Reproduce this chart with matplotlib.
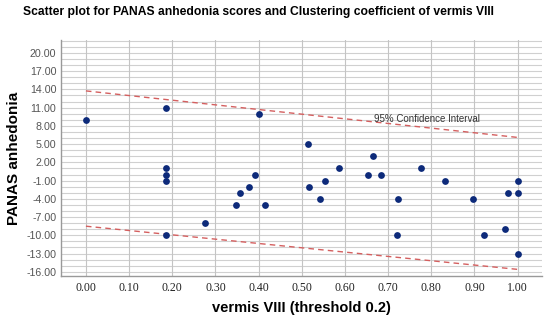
import matplotlib
matplotlib.use("Agg")
import matplotlib.pyplot as plt
import numpy as np

# values
vermis = [0.00, 0.185, 0.185, 0.185, 0.185, 0.185, 0.277, 0.347, 0.358, 0.378,
          0.391, 0.402, 0.415, 0.514, 0.516, 0.542, 0.553, 0.587, 0.654, 0.666,
          0.683, 0.724, 0.721, 0.777, 0.833, 0.896, 0.923, 0.971, 0.977, 1.00,
          1.00, 1.00]
anhedonia = [9, 11, 1, 0, -1, -10, -8, -5, -3, -2,
             0, 10, -5, 5, -2, -4, -1, 1, 0, 3,
             0, -4, -10, 1, -1, -4, -10, -9, -3, -3,
             -1, -13]

ci_x = [0.0, 1.0]
ci_upper = [13.75, 6.1]
ci_lower = [-8.5, -15.6]

x_ticks = [0.0, 0.1, 0.2, 0.3, 0.4, 0.5, 0.6, 0.7, 0.8, 0.9, 1.0]
y_ticks = [20, 17, 14, 11, 8, 5, 2, -1, -4, -7, -10, -13, -16]

plt.rcParams['font.family'] = ['Liberation Sans', 'DejaVu Sans']

fig = plt.figure(figsize=(5.5, 3.21), dpi=100)
ax = fig.add_axes([0.1115, 0.140, 0.8735, 0.735])

# grid: every integer horizontally, every 0.1 vertically
for yv in np.arange(-16, 23, 1):
    ax.axhline(yv, color='#d0d0d0', lw=0.8, zorder=0)
for xv in x_ticks:
    ax.axvline(xv, color='#c4c4c4', lw=0.8, zorder=0)

ax.plot(ci_x, ci_upper, color='#d45f5f', lw=1.0, ls=(0, (4, 3)), zorder=2)
ax.plot(ci_x, ci_lower, color='#d45f5f', lw=1.0, ls=(0, (4, 3)), zorder=2)
ax.text(0.667, 9.2, '95% Confidence Interval', fontsize=7, color='#333333',
        va='center', ha='left')

ax.scatter(vermis, anhedonia, s=24, color='#0d2a7a', zorder=3, linewidths=0)

ax.set_xlim(-0.057, 1.056)
ax.set_ylim(-16.7, 22.1)
ax.set_xticks(x_ticks)
ax.set_xticklabels(['%.2f' % v for v in x_ticks], family='Liberation Serif',
                   fontsize=8.5, color='#222222')
ax.set_yticks(y_ticks)
ax.set_yticklabels(['%.2f' % v for v in y_ticks], fontsize=7.7, color='#555555')
ax.tick_params(length=0, pad=3.5)
ax.tick_params(axis='x', pad=4)

for s in ['top', 'right']:
    ax.spines[s].set_visible(False)
for s in ['left', 'bottom']:
    ax.spines[s].set_color('#999999')
    ax.spines[s].set_linewidth(1.0)

ax.set_xlabel('vermis VIII (threshold 0.2)', fontsize=10.5, fontweight='bold',
              labelpad=5)
ax.set_ylabel('PANAS anhedonia', fontsize=11, fontweight='bold', labelpad=4)

fig.text(0.469, 0.962, 'Scatter plot for PANAS anhedonia scores and Clustering coefficient of vermis VIII',
         ha='center', va='center', fontsize=8.7, fontweight='bold')

fig.savefig('out.png', dpi=100)
